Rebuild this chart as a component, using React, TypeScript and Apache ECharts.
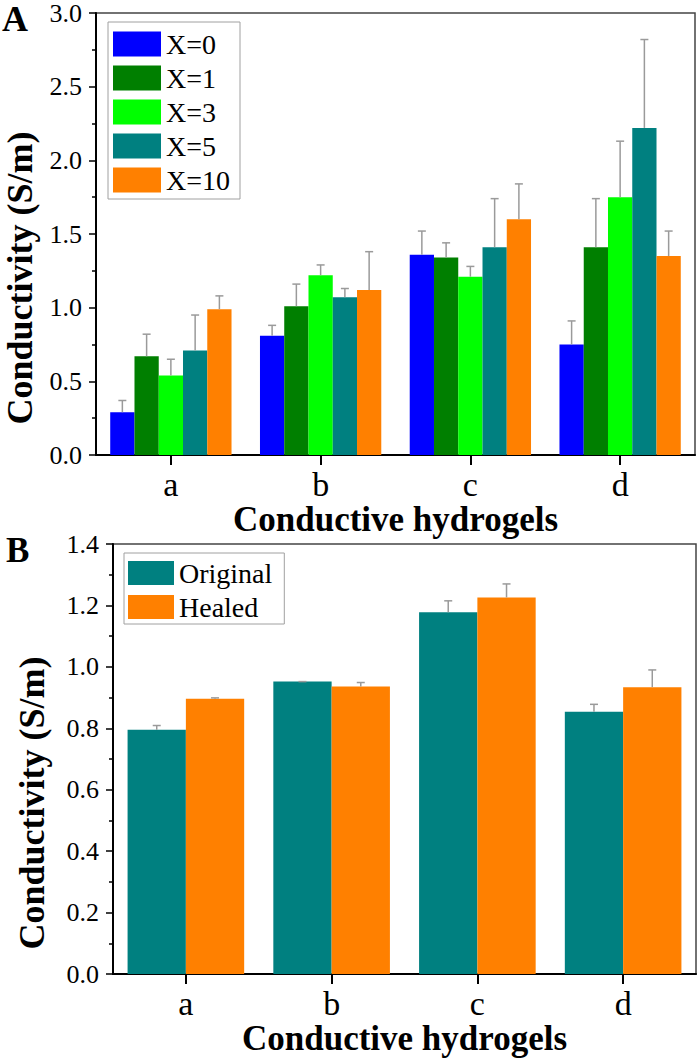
import React, { useEffect, useRef } from "react";
import * as echarts from "echarts";

const CATEGORIES = ["a", "b", "c", "d"];

// Panel A
const A_NAMES = ["X=0", "X=1", "X=3", "X=5", "X=10"];
const A_COLORS = ["#0000FF", "#007F00", "#00FF00", "#008080", "#FF8000"];
const X0 = [0.29, 0.81, 1.36, 0.75];
const X0_ERR = [0.08, 0.07, 0.16, 0.16];
const X1 = [0.67, 1.01, 1.34, 1.41];
const X1_ERR = [0.15, 0.15, 0.1, 0.33];
const X3 = [0.54, 1.22, 1.21, 1.75];
const X3_ERR = [0.11, 0.07, 0.07, 0.38];
const X5 = [0.71, 1.07, 1.41, 2.22];
const X5_ERR = [0.24, 0.06, 0.33, 0.6];
const X10 = [0.99, 1.12, 1.6, 1.35];
const X10_ERR = [0.09, 0.26, 0.24, 0.17];
const A_VALUES = [X0, X1, X3, X5, X10];
const A_ERRORS = [X0_ERR, X1_ERR, X3_ERR, X5_ERR, X10_ERR];
const A_TICKS = { min: 0, max: 3, interval: 0.5 };

// Panel B
const B_NAMES = ["Original", "Healed"];
const B_COLORS = ["#008080", "#FF8000"];
const ORIGINAL = [0.795, 0.952, 1.178, 0.854];
const ORIGINAL_ERR = [0.014, 0.0, 0.037, 0.024];
const HEALED = [0.896, 0.936, 1.226, 0.934];
const HEALED_ERR = [0.003, 0.013, 0.044, 0.056];
const B_VALUES = [ORIGINAL, HEALED];
const B_ERRORS = [ORIGINAL_ERR, HEALED_ERR];
const B_TICKS = { min: 0, max: 1.4, interval: 0.2 };

const FONT = "Liberation Serif, Times New Roman, serif";
const GAP_A = 0.19;
const GAP_B = 0.2;

function errorSeries(
  name: string,
  vals: number[],
  errs: number[],
  idx: number,
  n: number,
  gap: number,
  axisIndex: number
) {
  return {
    type: "custom",
    name: name + " err",
    xAxisIndex: axisIndex,
    yAxisIndex: axisIndex,
    z: 5,
    silent: true,
    encode: { x: 0, y: 1 },
    data: vals.map((v, j) => [j, v, v + errs[j]]),
    renderItem: (params: any, api: any) => {
      const j = api.value(0);
      const v = api.value(1);
      const hi = api.value(2);
      const p0 = api.coord([j, v]);
      const p1 = api.coord([j, hi]);
      const catW = api.size([1, 0])[0];
      const groupW = catW * (1 - gap);
      const bw = groupW / n;
      const x = p0[0] - groupW / 2 + (idx + 0.5) * bw;
      const st = { stroke: "#9a9a9a", lineWidth: 1.5 };
      return {
        type: "group",
        children: [
          { type: "line", shape: { x1: x, y1: p0[1], x2: x, y2: p1[1] }, style: st },
          { type: "line", shape: { x1: x - 4, y1: p1[1], x2: x + 4, y2: p1[1] }, style: st },
        ],
      };
    },
  };
}

function makeAxes(gridIndex: number, ticks: { min: number; max: number; interval: number }, nameGap: number) {
  const x = {
    type: "category",
    gridIndex,
    data: CATEGORIES,
    boundaryGap: true,
    name: "Conductive hydrogels",
    nameLocation: "middle",
    nameGap,
    nameTextStyle: { fontFamily: FONT, fontWeight: "bold", fontSize: 35, color: "#000" },
    axisLine: { show: true, lineStyle: { color: "#000", width: 2 } },
    axisTick: { show: true, alignWithLabel: true, length: 10, lineStyle: { color: "#000", width: 2 } },
    axisLabel: { fontFamily: FONT, fontSize: 34, color: "#000", margin: 12 },
    splitLine: { show: false },
  };
  const y = {
    type: "value",
    gridIndex,
    min: ticks.min,
    max: ticks.max,
    interval: ticks.interval,
    axisLine: { show: true, lineStyle: { color: "#000", width: 2 } },
    axisTick: { show: true, length: 7, lineStyle: { color: "#000", width: 1.5 } },
    minorTick: { show: true, splitNumber: 2, length: 4, lineStyle: { color: "#000", width: 1.5 } },
    axisLabel: {
      fontFamily: FONT,
      fontSize: 26,
      color: "#000",
      margin: 14,
      formatter: (v: number) => v.toFixed(1),
    },
    splitLine: { show: false },
  };
  return { x, y };
}

export default function App() {
  const ref = useRef<HTMLDivElement>(null);

  useEffect(() => {
    if (!ref.current) return;
    const chart = echarts.init(ref.current, null, { renderer: "svg" });
    const axA = makeAxes(0, A_TICKS, 40);
    const axB = makeAxes(1, B_TICKS, 45);

    const series: any[] = [];
    A_NAMES.forEach((name, i) => {
      series.push({
        type: "bar",
        name,
        xAxisIndex: 0,
        yAxisIndex: 0,
        data: A_VALUES[i],
        itemStyle: { color: A_COLORS[i] },
        barGap: "0%",
        barCategoryGap: GAP_A * 100 + "%",
        z: 2,
      });
    });
    A_NAMES.forEach((name, i) => {
      series.push(errorSeries(name, A_VALUES[i], A_ERRORS[i], i, A_NAMES.length, GAP_A, 0));
    });
    B_NAMES.forEach((name, i) => {
      series.push({
        type: "bar",
        name,
        xAxisIndex: 1,
        yAxisIndex: 1,
        data: B_VALUES[i],
        itemStyle: { color: B_COLORS[i] },
        barGap: "0%",
        barCategoryGap: GAP_B * 100 + "%",
        z: 2,
      });
    });
    B_NAMES.forEach((name, i) => {
      series.push(errorSeries(name, B_VALUES[i], B_ERRORS[i], i, B_NAMES.length, GAP_B, 1));
    });

    const legendText = { fontFamily: FONT, fontSize: 28, color: "#000", lineHeight: 25 };
    const yTitleStyle = {
      text: "Conductivity (S/m)",
      fontFamily: FONT,
      fontWeight: "bold",
      fontSize: 36,
      fill: "#000",
      align: "center",
      verticalAlign: "middle",
    };

    chart.setOption({
      animation: false,
      backgroundColor: "#fff",
      title: [
        {
          text: "A",
          left: 2,
          top: 1,
          padding: 0,
          textStyle: { fontFamily: FONT, fontWeight: "bold", fontSize: 36, color: "#000" },
        },
        {
          text: "B",
          left: 6,
          top: 533,
          padding: 0,
          textStyle: { fontFamily: FONT, fontWeight: "bold", fontSize: 35, color: "#000" },
        },
      ],
      grid: [
        { left: 96, top: 12, width: 599, height: 443, show: true, borderColor: "#444", borderWidth: 1.5, backgroundColor: "transparent" },
        { left: 113, top: 544, width: 583, height: 430, show: true, borderColor: "#444", borderWidth: 1.5, backgroundColor: "transparent" },
      ],
      legend: [
        {
          data: A_NAMES,
          orient: "vertical",
          left: 108,
          top: 22,
          padding: [8, 10, 5, 5],
          itemWidth: 48,
          itemHeight: 25,
          itemGap: 6,
          icon: "rect",
          borderColor: "#a0a0a0",
          borderWidth: 1,
          selectedMode: false,
          textStyle: legendText,
        },
        {
          data: B_NAMES,
          orient: "vertical",
          left: 124,
          top: 553,
          padding: [6, 12, 3, 4],
          itemWidth: 46,
          itemHeight: 24,
          itemGap: 6,
          icon: "rect",
          borderColor: "#a0a0a0",
          borderWidth: 1,
          selectedMode: false,
          textStyle: legendText,
        },
      ],
      xAxis: [axA.x, axB.x],
      yAxis: [axA.y, axB.y],
      graphic: [
        { type: "text", x: 20, y: 278, rotation: Math.PI / 2, style: yTitleStyle },
        { type: "text", x: 32, y: 803, rotation: Math.PI / 2, style: yTitleStyle },
      ],
      series,
    });
    return () => chart.dispose();
  }, []);

  return (
    <div
      ref={ref}
      style={{ position: "absolute", left: 0, top: 0, width: 700, height: 1058, background: "#fff" }}
    />
  );
}
